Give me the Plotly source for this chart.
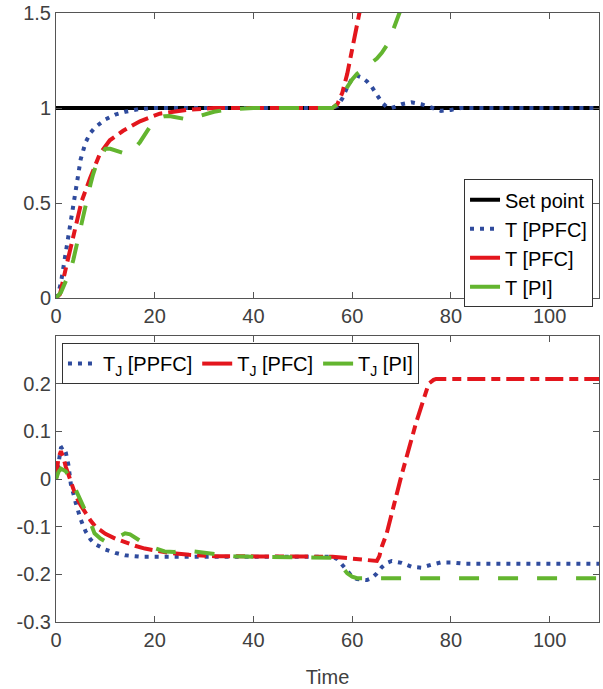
import plotly.graph_objects as go
from plotly.subplots import make_subplots

# ---------------- data: top panel (T) ----------------
t_set = [0, 110]
v_set = [1, 1]

t_ppfc = [0, 0.5, 1, 1.5, 2, 3, 4, 5, 6, 7, 8, 10, 12, 14, 17, 20, 30, 40, 50, 56, 57, 58, 59, 60,
          61, 62, 63, 64, 65, 66, 67, 68, 70, 72, 74, 76, 78, 80, 82, 85, 90, 100, 110]
v_ppfc = [0, 0.03, 0.08, 0.16, 0.25, 0.41, 0.58, 0.73, 0.82, 0.87, 0.9, 0.94, 0.965, 0.98, 0.995, 1.0,
          1.0, 1.0, 1.0, 1.0, 1.01, 1.05, 1.11, 1.155, 1.17, 1.16, 1.14, 1.11, 1.07, 1.03, 1.005, 1.0,
          1.02, 1.03, 1.02, 1.0, 0.985, 0.99, 1.0, 1.0, 1.0, 1.0, 1.0]

t_pfc = [0, 0.8, 2.2, 4.2, 5.2, 6.9, 8.9, 10.9, 13.6, 17, 21, 26.5, 32, 40, 50, 56, 57, 58, 59, 60,
         61, 62, 63]
v_pfc = [0, 0.02, 0.18, 0.39, 0.51, 0.63, 0.76, 0.83, 0.88, 0.93, 0.97, 0.99, 1.0, 1.0, 1.0, 1.0,
         1.02, 1.08, 1.18, 1.3, 1.43, 1.56, 1.7]

t_pi = [0, 1, 2, 3, 3.5, 4, 5, 5.5, 6, 7, 7.5, 8, 9, 10, 11, 12, 13, 14, 15, 16, 17, 18, 19, 20,
        21, 22, 23, 24, 25, 26, 28, 30, 32, 35, 40, 50, 56, 57, 58, 59, 60, 61, 62, 63, 64, 65, 66,
        67, 68, 69, 70, 71]
v_pi = [0, 0.03, 0.09, 0.15, 0.2, 0.26, 0.38, 0.44, 0.5, 0.6, 0.65, 0.69, 0.75, 0.785, 0.785, 0.775,
        0.765, 0.76, 0.77, 0.79, 0.82, 0.86, 0.9, 0.93, 0.95, 0.957, 0.958, 0.953, 0.947, 0.943,
        0.95, 0.965, 0.98, 0.993, 1.0, 1.0, 1.0, 1.02, 1.06, 1.11, 1.15, 1.18, 1.2, 1.22, 1.24,
        1.26, 1.29, 1.33, 1.39, 1.46, 1.53, 1.6]

# ---------------- data: bottom panel (T_J) ----------------
t_j_ppfc = [0, 0.5, 1, 1.5, 2, 2.5, 3, 4, 5, 6, 7, 8, 9, 10, 12, 14, 17, 20, 56, 57, 58, 59, 60, 61,
            62, 63, 64, 65, 66, 67, 68, 70, 72, 74, 76, 78, 80, 83, 90, 110]
v_j_ppfc = [0, 0.04, 0.065, 0.068, 0.055, 0.03, -0.01, -0.05, -0.085, -0.11, -0.127, -0.137, -0.143,
            -0.148, -0.155, -0.16, -0.163, -0.163, -0.163, -0.168, -0.18, -0.195, -0.205, -0.21,
            -0.212, -0.212, -0.208, -0.198, -0.185, -0.176, -0.172, -0.176, -0.184, -0.186, -0.18,
            -0.175, -0.175, -0.178, -0.178, -0.178]

t_j_pfc = [0, 0.5, 1, 1.5, 2, 3, 4, 5, 6, 7, 8, 9, 10, 12, 14, 16, 18, 20, 23, 27, 32, 56, 58, 60,
           62, 64, 65, 65.5, 66, 67, 70, 73, 75.5, 76.5, 77, 110]
v_j_pfc = [0, 0.045, 0.058, 0.045, 0.025, -0.005, -0.035, -0.055, -0.072, -0.087, -0.1, -0.108,
           -0.115, -0.125, -0.133, -0.14, -0.146, -0.15, -0.155, -0.159, -0.162, -0.163, -0.165,
           -0.168, -0.17, -0.173, -0.172, -0.162, -0.142, -0.114, 0.008, 0.12, 0.2, 0.208, 0.21, 0.21]

t_j_pi = [0, 0.5, 1, 1.5, 2, 3, 4, 5, 6, 7, 7.8, 9, 10, 11, 12, 13, 14, 15, 16, 17, 18, 20, 22, 24,
          26, 28, 31, 36, 40, 56, 57, 58, 59, 60, 61, 110]
v_j_pi = [0, 0.015, 0.022, 0.02, 0.016, 0.0, -0.022, -0.042, -0.068, -0.092, -0.114, -0.125, -0.131,
          -0.13, -0.125, -0.118, -0.114, -0.116, -0.123, -0.13, -0.136, -0.145, -0.152, -0.153,
          -0.15, -0.152, -0.156, -0.162, -0.163, -0.165, -0.172, -0.185, -0.198, -0.205, -0.208,
          -0.208]

x_ticks = [0, 20, 40, 60, 80, 100]
y1_ticks = [0, 0.5, 1, 1.5]
y1_text = ["0", "0.5", "1", "1.5"]
y2_ticks = [-0.3, -0.2, -0.1, 0, 0.1, 0.2]
y2_text = ["-0.3", "-0.2", "-0.1", "0", "0.1", "0.2"]

BLUE = "#2f4b9d"
RED = "#e3161d"
GREEN = "#63b52f"
BLACK = "#000000"
AX = "#555555"
TXT = "#404040"
FONT = "Liberation Sans, Arial, sans-serif"
LW = 4
DOT = "4px,6px"
DASHDOT = "18px,6px,9px,6px"
DASH = "20px,19px"

fig = make_subplots(rows=2, cols=1, vertical_spacing=0.0625)

# top data traces
fig.add_trace(go.Scatter(x=t_set, y=v_set, mode="lines", line=dict(color=BLACK, width=LW),
                         showlegend=False), row=1, col=1)
fig.add_trace(go.Scatter(x=t_ppfc, y=v_ppfc, mode="lines", line=dict(color=BLUE, width=LW, dash=DOT),
                         showlegend=False), row=1, col=1)
fig.add_trace(go.Scatter(x=t_pfc, y=v_pfc, mode="lines", line=dict(color=RED, width=LW, dash=DASHDOT),
                         showlegend=False), row=1, col=1)
fig.add_trace(go.Scatter(x=t_pi, y=v_pi, mode="lines", line=dict(color=GREEN, width=LW, dash=DASH),
                         showlegend=False), row=1, col=1)

# bottom data traces
fig.add_trace(go.Scatter(x=t_j_ppfc, y=v_j_ppfc, mode="lines", line=dict(color=BLUE, width=LW, dash=DOT),
                         showlegend=False), row=2, col=1)
fig.add_trace(go.Scatter(x=t_j_pfc, y=v_j_pfc, mode="lines", line=dict(color=RED, width=LW, dash=DASHDOT),
                         showlegend=False), row=2, col=1)
fig.add_trace(go.Scatter(x=t_j_pi, y=v_j_pi, mode="lines", line=dict(color=GREEN, width=LW, dash=DASH),
                         showlegend=False), row=2, col=1)

# legend entries (short samples as in the original)
leg_top = [("Set point", BLACK, "solid"), ("T [PPFC]", BLUE, DOT), ("T [PFC]", RED, "solid"),
           ("T [PI]", GREEN, "solid")]
for name, c, d in leg_top:
    fig.add_trace(go.Scatter(x=[None], y=[None], mode="lines", name=name,
                             line=dict(color=c, width=LW, dash=d), legend="legend"), row=1, col=1)
leg_bot = [("T<sub>J</sub> [PPFC]", BLUE, DOT), ("T<sub>J</sub> [PFC]", RED, "solid"),
           ("T<sub>J</sub> [PI]", GREEN, "solid")]
for name, c, d in leg_bot:
    fig.add_trace(go.Scatter(x=[None], y=[None], mode="lines", name=name,
                             line=dict(color=c, width=LW, dash=d), legend="legend2"), row=2, col=1)

axis_common = dict(showline=True, linecolor=AX, linewidth=1, mirror="ticks", ticks="inside",
                   ticklen=6, tickcolor=AX, tickwidth=1, showgrid=False, zeroline=False,
                   automargin=False, tickfont=dict(family=FONT, size=20, color=TXT))

fig.update_xaxes(range=[0, 110], tickvals=x_ticks, **axis_common)
fig.update_yaxes(**axis_common)
fig.update_yaxes(range=[0, 1.5], tickvals=y1_ticks, ticktext=y1_text, row=1, col=1)
fig.update_yaxes(range=[-0.3, 0.3], tickvals=y2_ticks, ticktext=y2_text, row=2, col=1)
fig.update_xaxes(title=dict(text="Time", font=dict(family=FONT, size=20, color=TXT), standoff=19),
                 row=2, col=1)

fig.update_layout(
    width=603, height=689,
    margin=dict(l=56, r=4, t=13, b=67),
    paper_bgcolor="white", plot_bgcolor="white",
    font=dict(family=FONT, size=20, color="black"),
    legend=dict(x=0.989, y=0.727, xanchor="right", yanchor="top", bgcolor="white",
                bordercolor="#333333", borderwidth=1, font=dict(family=FONT, size=20, color="black"),
                tracegroupgap=0, itemwidth=30),
    legend2=dict(x=0.011, y=0.458, xanchor="left", yanchor="top", orientation="h", bgcolor="white",
                 bordercolor="#333333", borderwidth=1, font=dict(family=FONT, size=20, color="black"),
                 itemwidth=30),
)
fig.update_layout(yaxis=dict(domain=[0.532, 1.0]), yaxis2=dict(domain=[0.0, 0.4696]))

fig.write_html("out.html", config={"displayModeBar": False},
               post_script="document.body.style.margin='0';document.body.style.padding='0';")
